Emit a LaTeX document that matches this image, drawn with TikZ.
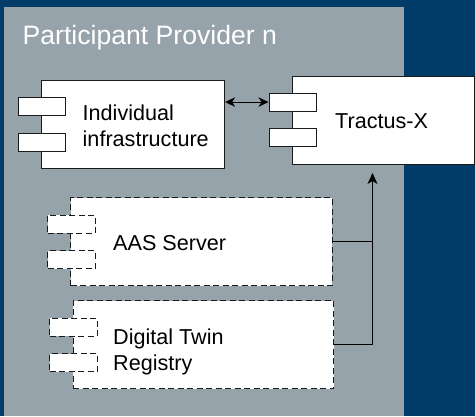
\documentclass[tikz,border=0pt]{standalone}
\usepackage{fontspec}
\setmainfont{Liberation Sans}
\usetikzlibrary{arrows.meta,calc}
\definecolor{bgblue}{HTML}{003C67}
\definecolor{panelgray}{HTML}{97A3AB}
\definecolor{inkline}{HTML}{1A1A1A}
\tikzset{
  compbox/.style={draw=inkline,fill=white,line width=1.1pt,anchor=north west,inner sep=0pt,minimum width=#1,minimum height=88pt},
  portbox/.style={draw=inkline,fill=white,line width=1.1pt,anchor=north west,inner sep=0pt,minimum width=47.5pt,minimum height=18pt},
  dashedline/.style={dash pattern=on 6pt off 3.5pt,line width=1.2pt},
  lbl/.style={anchor=base west,align=left,inner sep=0pt,font=\fontsize{21.6}{26}\selectfont,text=black},
  link/.style={draw=black,line width=1.1pt}
}
\begin{document}
\begin{tikzpicture}[x=1pt,y=1pt]
\useasboundingbox (0,0) rectangle (475,-416);
\fill[bgblue] (0,0) rectangle (475,-416);
\fill[panelgray] (4,-7) rectangle (404,-416);
\node[anchor=base west,inner sep=0pt,text=white,font=\fontsize{26.6}{30}\selectfont] (title) at (22.5,-44) {Participant Provider n};
% individual infrastructure
\node[compbox=183pt] (ind) at (41,-80) {};
\node[portbox] (ip1) at (17.5,-97) {};
\node[portbox] (ip2) at (17.5,-132.5) {};
\node[lbl] (indl) at (82.5,-146.7) {Individual\\infrastructure};
% tractus-x
\node[compbox=182pt] (trx) at (292,-75.5) {};
\node[portbox] (tp1) at (268.5,-92.5) {};
\node[portbox] (tp2) at (268.5,-128) {};
\node[lbl] (trxl) at (335,-128.5) {Tractus-X};
% AAS server
\node[compbox=261.5pt,dashedline] (aas) at (70,-197) {};
\node[portbox,dashedline] (ap1) at (47,-214.5) {};
\node[portbox,dashedline] (ap2) at (47,-250) {};
\node[lbl] (aasl) at (113,-250) {AAS Server};
% Digital twin registry
\node[compbox=260.5pt,dashedline] (dtr) at (72.5,-300) {};
\node[portbox,dashedline] (dp1) at (49,-317.5) {};
\node[portbox,dashedline] (dp2) at (49,-353) {};
\node[lbl] (dtrl) at (113,-370) {Digital Twin\\Registry};
% connectors
\coordinate (uptip) at (372.5,-173);
\draw[link,{Stealth[length=10pt,width=9.5pt,inset=3pt]}-{Stealth[length=10pt,width=9.5pt,inset=3pt]}] (tp1.west -| ind.east) -- (tp1.west);
\draw[link,-{Stealth[length=11pt,width=10pt,inset=3pt]}] (dtr.east) -| (uptip);
\draw[link] (aas.east) -- (aas.east -| uptip);
\end{tikzpicture}
\end{document}
